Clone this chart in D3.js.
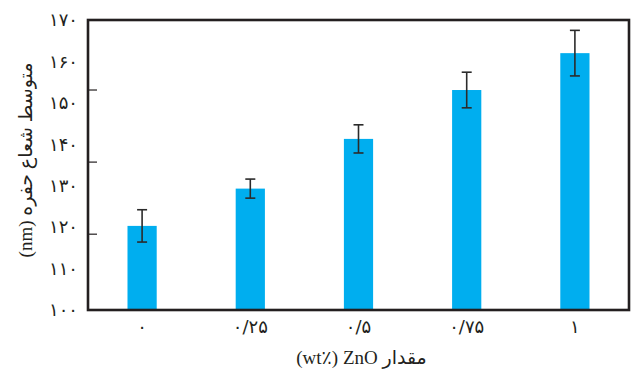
<!DOCTYPE html>
<html>
<head>
<meta charset="utf-8">
<script src="https://cdn.jsdelivr.net/npm/d3@7"></script>
<style>
  html, body { margin: 0; padding: 0; background: #fff; }
  svg { display: block; }
  text { font-family: "Liberation Serif", "DejaVu Sans", serif; fill: #231f20; }
</style>
</head>
<body>
<svg id="chart" width="631" height="373"></svg>
<script>
// ---- data ----
const categories = ["۰", "۰/۲۵", "۰/۵", "۰/۷۵", "۱"];
const meanRadius = [120.3, 129.3, 141.3, 153.1, 162.0];
const errorValues = [3.9, 2.3, 3.4, 4.3, 5.5];
const yTickValues = [100, 110, 120, 130, 140, 150, 160, 170];
const yTickLabels = ["۱۰۰", "۱۱۰", "۱۲۰", "۱۳۰", "۱۴۰", "۱۵۰", "۱۶۰", "۱۷۰"];
const frameTickValues = [118.3, 135.7, 153.1];
const yTitle = "متوسط شعاع حفره (nm)";
const xTitle = "(wt٪) ZnO مقدار";

// ---- layout ----
const margin = { left: 88, right: 2, top: 20, bottom: 63 };
const W = 631, H = 373;
const svg = d3.select("#chart");
const innerW = W - margin.left - margin.right;
const innerH = H - margin.top - margin.bottom;

const x = d3.scaleBand().domain(categories).range([margin.left, margin.left + innerW]).paddingInner(0.73).paddingOuter(0.365);
const y = d3.scaleLinear().domain([100, 170]).range([margin.top + innerH, margin.top]);

const data = categories.map((c, i) => ({ c, m: meanRadius[i], e: errorValues[i] }));

// bars
svg.append("g").selectAll("rect").data(data).join("rect")
  .attr("x", d => x(d.c))
  .attr("width", x.bandwidth())
  .attr("y", d => y(d.m))
  .attr("height", d => y(100) - y(d.m))
  .attr("fill", "#00aeef");

// error bars
const eb = svg.append("g").attr("stroke", "#2b2b2b").attr("stroke-width", 1.6);
const cx = d => x(d.c) + x.bandwidth() / 2;
const capW = 5;
eb.selectAll("line.v").data(data).join("line").attr("class", "v")
  .attr("x1", cx).attr("x2", cx)
  .attr("y1", d => y(d.m + d.e)).attr("y2", d => y(d.m - d.e));
eb.selectAll("line.t").data(data).join("line").attr("class", "t")
  .attr("x1", d => cx(d) - capW).attr("x2", d => cx(d) + capW)
  .attr("y1", d => y(d.m + d.e)).attr("y2", d => y(d.m + d.e));
eb.selectAll("line.b").data(data).join("line").attr("class", "b")
  .attr("x1", d => cx(d) - capW).attr("x2", d => cx(d) + capW)
  .attr("y1", d => y(d.m - d.e)).attr("y2", d => y(d.m - d.e));

// frame
svg.append("rect")
  .attr("x", margin.left).attr("y", margin.top)
  .attr("width", innerW).attr("height", innerH)
  .attr("fill", "none").attr("stroke", "#231f20").attr("stroke-width", 2.6);

// inner ticks on left frame
svg.append("g").selectAll("line").data(frameTickValues).join("line")
  .attr("x1", margin.left).attr("x2", margin.left + 9)
  .attr("y1", d => y(d)).attr("y2", d => y(d))
  .attr("stroke", "#231f20").attr("stroke-width", 1.2);

// y axis labels
const yAxis = d3.axisLeft(y).tickValues(yTickValues)
  .tickFormat((d, i) => yTickLabels[i]).tickSize(0).tickPadding(0);
const gy = svg.append("g").attr("transform", `translate(${margin.left - 10},0)`).call(yAxis);
gy.select(".domain").remove();
gy.selectAll("text").attr("font-size", 18).style("font-family", '"DejaVu Sans", sans-serif').attr("fill", "#231f20");

// x axis labels
const xAxis = d3.axisBottom(x).tickSize(0).tickPadding(10);
const gx = svg.append("g").attr("transform", `translate(0,${margin.top + innerH})`).call(xAxis);
gx.select(".domain").remove();
gx.selectAll("text").attr("font-size", 18).style("font-family", '"DejaVu Sans", sans-serif').attr("fill", "#231f20");

// titles
svg.append("text")
  .attr("transform", `translate(25,${margin.top + innerH / 2 - 5}) rotate(-90)`)
  .attr("text-anchor", "middle")
  .attr("dominant-baseline", "central")
  .attr("direction", "rtl")
  .attr("font-size", 19)
  .text(yTitle);

svg.append("text")
  .attr("x", margin.left + innerW / 2 + 3)
  .attr("y", 364)
  .attr("text-anchor", "middle")
  .attr("direction", "ltr")
  .attr("font-size", 19)
  .text(xTitle);
</script>
</body>
</html>
